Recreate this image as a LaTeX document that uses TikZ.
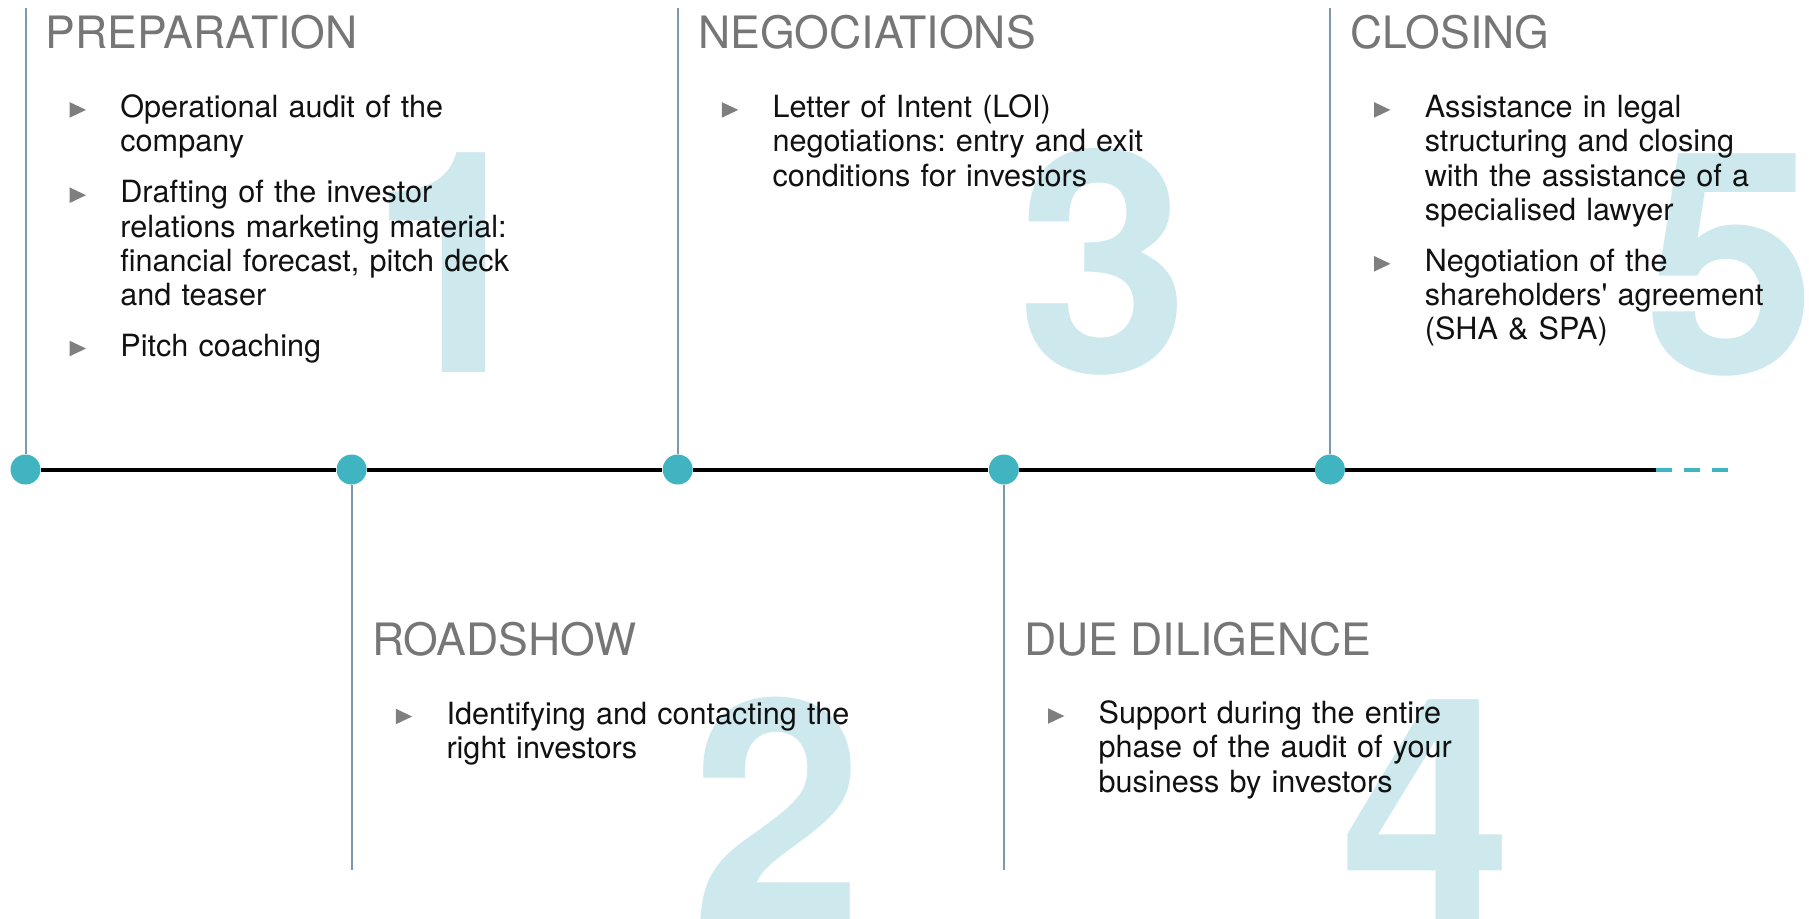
\documentclass[tikz,border=0pt]{standalone}
\usepackage{fontspec}
\setmainfont{TeX Gyre Heros}
\frenchspacing
\usetikzlibrary{positioning}
\definecolor{dotteal}{HTML}{40B4C1}
\definecolor{stemgray}{HTML}{7C98AE}
\definecolor{titlegray}{HTML}{767676}
\definecolor{textblack}{HTML}{111111}
\definecolor{digitcyan}{HTML}{CDE9EE}
\definecolor{bulletgray}{HTML}{7F7F7F}
\tikzstyle{milestone} = [circle, fill=dotteal, minimum size=15pt, inner sep=0pt]
\tikzstyle{stem} = [stemgray, line width=1pt]
\tikzstyle{timeline} = [black, line width=2pt]
\tikzstyle{more} = [dotteal, line width=2pt, dash pattern=on 8pt off 6pt]
\tikzstyle{phase} = [font=\fontsize{22.3pt}{26pt}\selectfont, text=titlegray, inner sep=0pt, anchor=base west]
\tikzstyle{item} = [font=\fontsize{15.3pt}{17.15pt}\selectfont, text=textblack, inner sep=0pt, anchor=base west, text width=215pt, align=left]
\tikzstyle{pointer} = [fill=bulletgray]
\tikzstyle{digit} = [font=\fontsize{155pt}{160pt}\selectfont\bfseries, text=digitcyan, inner sep=0pt, anchor=base]

\begin{document}
\begin{tikzpicture}[x=0.5pt, y=-0.5pt]
    \useasboundingbox (0,0) rectangle (1809,918);

    % Big phase numbers, behind the text.
    \node (num 1) [digit] at (455,372) {1};
    \node (num 2) [digit] at (777.6,921) {2};
    \node (num 3) [digit] at (1103.5,372) {3};
    \node (num 4) [digit] at (1427,919) {4};
    \node (num 5) [digit] at (1731,373) {5};

    % Milestones and stems.
    \foreach \i/\x/\y in {1/25.5/8, 2/351.6/870, 3/677.7/8, 4/1003.8/870, 5/1329.9/8} {%
        \node (dot \i) [milestone] at (\x,469.5) {};
        \coordinate (stem end \i) at (\x,\y);
        \draw [stem] (dot \i) -- (stem end \i);
    }
    \coordinate (line end) at (1656,469.5);
    \coordinate (tail) at (1730,469.5);

    % Time line.
    \draw [timeline] (dot 1) -- (dot 2) -- (dot 3) -- (dot 4) -- (dot 5) -- (line end);
    \draw [more] (line end) -- (tail);

    % Phases.
    \node (title 1) [phase] at (45.5,48.3) {PREPARATION};
    \node (title 2) [phase] at (371.6,655) {ROADSHOW};
    \node (title 3) [phase] at (697.7,48.3) {NEGOCIATIONS};
    \node (title 4) [phase] at (1023.8,655) {DUE DILIGENCE};
    \node (title 5) [phase] at (1349.9,48.3) {CLOSING};

    \node (item 1a) [item] at (120,117.4) {Operational audit of the\\company};
    \node (item 1b) [item] at (120,202.7) {Drafting of the investor\\relations marketing material:\\financial forecast, pitch deck\\and teaser};
    \node (item 1c) [item] at (120,356) {Pitch coaching};
    \node (item 2a) [item] at (446.1,724) {Identifying and contacting the\\right investors};
    \node (item 3a) [item] at (772.2,117.4) {Letter of Intent (LOI)\\negotiations: entry and exit\\conditions for investors};
    \node (item 4a) [item] at (1098.3,723.5) {Support during the entire\\phase of the audit of your\\business by investors};
    \node (item 5a) [item] at (1424.4,117.4) {Assistance in legal\\structuring and closing\\with the assistance of a\\specialised lawyer};
    \node (item 5b) [item] at (1424.4,271.3) {Negotiation of the\\shareholders\textquotesingle{} agreement\\(SHA \& SPA)};

    % Bullets.
    \foreach \n in {1a, 1b, 1c, 2a, 3a, 4a, 5a, 5b} {%
        \fill [pointer] ([shift={(-34,-7.5)}]item \n.base west) -- ++(-16.3,-7.75) -- ++(0,15.5) -- cycle;
    }
\end{tikzpicture}
\end{document}
